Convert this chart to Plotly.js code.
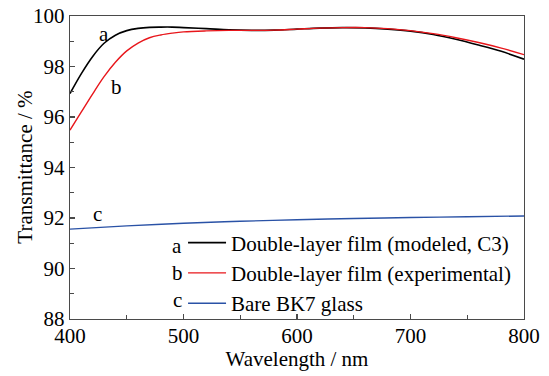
<!DOCTYPE html>
<html>
<head>
<meta charset="utf-8">
<script src="https://cdn.plot.ly/plotly-3.0.1.min.js"></script>
<style>
  html, body { margin: 0; padding: 0; background: #fff; font-family: "Liberation Serif", serif; }
  #chart { width: 549px; height: 376px; }
  #chart text { font-family: "Liberation Serif", serif !important; }
</style>
</head>
<body>
<div id="chart"></div>
<script>
// Transmittance spectra (%) versus wavelength (nm)
const wlA = [400, 410, 420, 430, 440, 450, 460, 470, 480, 490, 500, 520, 540, 560, 580, 600, 620, 640, 660, 680, 700, 720, 740, 760, 780, 800];
const modeled = [96.93, 97.72, 98.40, 98.92, 99.24, 99.42, 99.51, 99.55, 99.56, 99.56, 99.54, 99.50, 99.45, 99.43, 99.44, 99.48, 99.52, 99.54, 99.53, 99.48, 99.40, 99.27, 99.08, 98.85, 98.60, 98.29];

const wlB = [400, 410, 420, 430, 440, 450, 460, 470, 480, 490, 500, 520, 540, 560, 580, 600, 620, 640, 660, 680, 700, 720, 740, 760, 780, 800];
const experimental = [95.48, 96.20, 96.92, 97.60, 98.17, 98.62, 98.93, 99.14, 99.25, 99.32, 99.37, 99.41, 99.43, 99.43, 99.44, 99.48, 99.52, 99.54, 99.54, 99.50, 99.42, 99.30, 99.14, 98.95, 98.73, 98.47];

const wlC = [400, 450, 500, 550, 600, 650, 700, 750, 800];
const bareGlass = [91.56, 91.69, 91.79, 91.87, 91.93, 91.98, 92.02, 92.05, 92.08];

const seriesNames = ['Double-layer film (modeled, C3)', 'Double-layer film (experimental)', 'Bare BK7 glass'];
const seriesTags = ['a', 'b', 'c'];
const xTicks = [400, 500, 600, 700, 800];
const yTicks = [88, 90, 92, 94, 96, 98, 100];

const FONT = 'Liberation Serif';
const colors = ['#000000', '#e8161b', '#2a52a6'];

const traces = [
  { x: wlA, y: modeled, name: seriesNames[0], mode: 'lines', line: { color: colors[0], width: 1.6, shape: 'spline' } },
  { x: wlB, y: experimental, name: seriesNames[1], mode: 'lines', line: { color: colors[1], width: 1.4, shape: 'spline' } },
  { x: wlC, y: bareGlass, name: seriesNames[2], mode: 'lines', line: { color: colors[2], width: 1.4, shape: 'spline' } }
];

const txt = (size) => ({ family: FONT, size: size, color: '#000' });

const axisCommon = () => ({
  showgrid: false, zeroline: false,
  showline: true, mirror: true, linecolor: '#4a4a4a', linewidth: 1.3,
  ticks: 'inside', ticklen: 5, tickwidth: 1.2, tickcolor: '#4a4a4a',
  tickfont: txt(21)
});
const minorTicks = (dtick, tick0) => ({ ticks: 'inside', ticklen: 4, tickwidth: 1.2, tickcolor: '#4a4a4a', dtick: dtick, tick0: tick0 });

// Curve tags next to the curves, the y-axis title, and tags in front of the legend rows
const annotations = [
  { x: 430, y: 99.3, text: seriesTags[0] },
  { x: 441, y: 97.2, text: seriesTags[1] },
  { x: 424, y: 92.15, text: seriesTags[2] }
].map(a => Object.assign({ xref: 'x', yref: 'y', showarrow: false, font: txt(21) }, a));

annotations.push({
  xref: 'paper', yref: 'paper', x: -0.101, y: 0.5, text: 'Transmittance / %',
  textangle: -90, showarrow: false, xanchor: 'center', yanchor: 'middle', font: txt(21)
});

const legendRowY = [0.241, 0.152, 0.063];
seriesTags.forEach((t, i) => {
  annotations.push({
    xref: 'paper', yref: 'paper', x: 0.236, y: legendRowY[i], text: t,
    showarrow: false, xanchor: 'center', yanchor: 'middle', font: txt(21)
  });
});

const layout = {
  width: 549, height: 376,
  margin: { l: 70, r: 25, t: 16, b: 57 },
  paper_bgcolor: '#fff', plot_bgcolor: '#fff',
  font: txt(21),
  xaxis: Object.assign(axisCommon(), {
    range: [400, 800], tickvals: xTicks, ticktext: xTicks.map(String),
    ticklabelstandoff: -3,
    minor: minorTicks(50, 400),
    title: { text: 'Wavelength / nm', font: txt(21), standoff: 4 }
  }),
  yaxis: Object.assign(axisCommon(), {
    range: [88, 100], tickvals: yTicks, ticktext: yTicks.map(String),
    minor: minorTicks(1, 88)
  }),
  showlegend: true,
  legend: {
    x: 0.249, y: 0.152, xanchor: 'left', yanchor: 'middle',
    bgcolor: 'rgba(0,0,0,0)', borderwidth: 0,
    font: txt(21),
    tracegroupgap: 0, itemwidth: 38
  },
  annotations: annotations
};

// Draw, then redraw once the serif face is resolved so text metrics use it
Plotly.newPlot('chart', traces, layout, { displayModeBar: false, staticPlot: true })
  .then(() => {
    document.querySelectorAll('#chart text').forEach(t => getComputedStyle(t).fontFamily);
    return document.fonts.load('21px "Liberation Serif"', 'Wavelength');
  })
  .then(() => Plotly.redraw('chart'))
  .then(() => {
    document.querySelectorAll('#chart text').forEach(t => getComputedStyle(t).fontFamily);
  });
</script>
</body>
</html>
